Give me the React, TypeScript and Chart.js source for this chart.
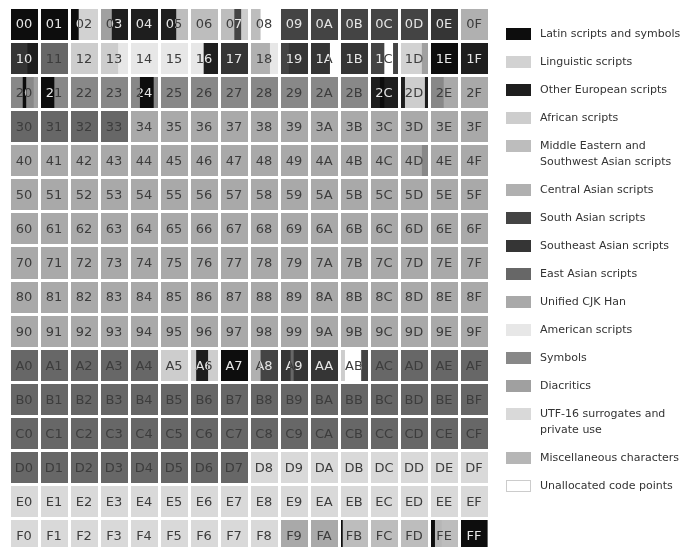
import { useEffect, useRef } from "react";
import { Chart, registerables } from "chart.js";

Chart.register(...registerables);

const CATEGORIES = [
  "Latin scripts and symbols",
  "Linguistic scripts",
  "Other European scripts",
  "African scripts",
  "Middle Eastern and\nSouthwest Asian scripts",
  "Central Asian scripts",
  "South Asian scripts",
  "Southeast Asian scripts",
  "East Asian scripts",
  "Unified CJK Han",
  "American scripts",
  "Symbols",
  "Diacritics",
  "UTF-16 surrogates and\nprivate use",
  "Miscellaneous characters",
  "Unallocated code points",
];

const CATEGORY_SHADES = [
  "#0d0d0d", "#d2d2d2", "#1e1e1e", "#cdcdcd",
  "#bdbdbd", "#b0b0b0", "#444444", "#353535",
  "#676767", "#a9a9a9", "#e7e7e7", "#888888",
  "#a0a0a0", "#d9d9d9", "#b6b6b6", "#ffffff",
];

// Start code point of each contiguous range (range ends where the next one starts)
const RANGE_STARTS = [
  0x0000, 0x0250, 0x0300, 0x0370, 0x0590, 0x0780, 0x07c0, 0x0800, 0x0860, 0x0900,
  0x0e00, 0x0f00, 0x1000, 0x10a0, 0x1100, 0x1200, 0x13a0, 0x1680, 0x1700, 0x1800,
  0x18b0, 0x1900, 0x1950, 0x1ab0, 0x1b00, 0x1c00, 0x1c80, 0x1cd0, 0x1d00, 0x1dc0,
  0x1e00, 0x1f00, 0x2000, 0x2078, 0x2090, 0x20d0, 0x2100, 0x2180, 0x2460, 0x24d0,
  0x2c00, 0x2c60, 0x2c80, 0x2d30, 0x2de0, 0x2e00, 0x2e80, 0x3000, 0x3400, 0x4dc0,
  0x4e00, 0xa000, 0xa500, 0xa640, 0xa6a0, 0xa700, 0xa800, 0xa860, 0xa900, 0xa960,
  0xa980, 0xab00, 0xab30, 0xabc0, 0xac00, 0xd800, 0xf900, 0xfb00, 0xfb1d, 0xfe00,
  0xfe10, 0xfe30, 0xfe70, 0xff00, 0xfff0,
];

const RANGE_CATEGORIES = [
  0, 1, 12, 2, 4, 6, 3, 4, 15, 6,
  7, 5, 7, 2, 8, 3, 10, 2, 7, 5,
  10, 6, 7, 15, 7, 6, 15, 6, 1, 12,
  0, 2, 11, 0, 11, 12, 0, 11, 0, 11,
  2, 0, 2, 3, 2, 11, 9, 8, 9, 11,
  9, 8, 3, 2, 3, 0, 5, 6, 7, 8,
  7, 3, 15, 6, 8, 13, 9, 0, 4, 12,
  0, 14, 4, 0, 14,
];

const HEX_DIGITS = ["0", "1", "2", "3", "4", "5", "6", "7", "8", "9", "A", "B", "C", "D", "E", "F"];
const ROW_LABELS = HEX_DIGITS.map((d) => "row" + d);

function buildDatasets() {
  const perCat: { x: [number, number]; y: string }[][] = CATEGORIES.map(() => []);
  for (let i = 0; i < RANGE_STARTS.length; i++) {
    const start = RANGE_STARTS[i];
    const end = i + 1 < RANGE_STARTS.length ? RANGE_STARTS[i + 1] : 0x10000;
    const cat = RANGE_CATEGORIES[i];
    let s = start;
    while (s < end) {
      const row = s >> 12;
      const base = row << 12;
      const rowEnd = Math.min(end, base + 0x1000);
      perCat[cat].push({ x: [(s - base) / 256, (rowEnd - base) / 256], y: ROW_LABELS[row] });
      s = rowEnd;
    }
  }
  return CATEGORIES.map((name, i) => ({
    label: name,
    data: perCat[i],
    backgroundColor: CATEGORY_SHADES[i],
    borderWidth: 0,
    grouped: false,
    categoryPercentage: 1,
    barPercentage: 1,
  }));
}

const overlayPlugin = {
  id: "cellLabelsAndLegend",
  afterDraw(chart: any) {
    const ctx = chart.ctx as CanvasRenderingContext2D;
    const xs = chart.scales.x;
    const ys = chart.scales.y;
    ctx.save();
    ctx.font = '13px "DejaVu Sans"';
    ctx.textAlign = "center";
    ctx.textBaseline = "middle";
    const rowH = Math.abs(ys.getPixelForValue(1) - ys.getPixelForValue(0));
    for (let r = 0; r < 16; r++) {
      const yc = ys.getPixelForValue(r);
      for (let c = 0; c < 16; c++) {
        const cellStart = r * 0x1000 + c * 0x100;
        const cellEnd = cellStart + 0x100;
        const text = HEX_DIGITS[r] + HEX_DIGITS[c];
        const xc = xs.getPixelForValue(c + 0.5);
        for (let i = 0; i < RANGE_STARTS.length; i++) {
          const s = Math.max(RANGE_STARTS[i], cellStart);
          const e = Math.min(i + 1 < RANGE_STARTS.length ? RANGE_STARTS[i + 1] : 0x10000, cellEnd);
          if (e <= s) continue;
          const x0 = xs.getPixelForValue(c + (s - cellStart) / 256);
          const x1 = xs.getPixelForValue(c + (e - cellStart) / 256);
          const lum = parseInt(CATEGORY_SHADES[RANGE_CATEGORIES[i]].slice(1, 3), 16);
          ctx.save();
          ctx.beginPath();
          ctx.rect(x0, yc - rowH / 2, x1 - x0, rowH);
          ctx.clip();
          ctx.fillStyle = lum < 0x60 ? "#e6e6e6" : "#3c3c3c";
          ctx.fillText(text, xc, yc + 1);
          ctx.restore();
        }
      }
    }
    // legend
    ctx.font = '11px "DejaVu Sans"';
    ctx.textAlign = "left";
    let y = 34;
    CATEGORIES.forEach((name, i) => {
      ctx.fillStyle = CATEGORY_SHADES[i];
      ctx.fillRect(506, y - 6, 25, 12);
      if (i === CATEGORIES.length - 1) {
        ctx.strokeStyle = "#cccccc";
        ctx.lineWidth = 1;
        ctx.strokeRect(506.5, y - 5.5, 24, 11);
      }
      ctx.fillStyle = "#333333";
      const lines = name.split("\n");
      lines.forEach((ln, k) => ctx.fillText(ln, 540, y + k * 16));
      y += 28 + (lines.length - 1) * 16;
    });
    ctx.restore();
  },
};

export default function App() {
  const ref = useRef<HTMLCanvasElement | null>(null);
  useEffect(() => {
    if (!ref.current) return;
    const chart = new Chart(ref.current, {
      type: "bar",
      data: { labels: ROW_LABELS, datasets: buildDatasets() as any },
      options: {
        responsive: false,
        maintainAspectRatio: false,
        animation: false,
        indexAxis: "y",
        layout: { padding: { left: 9, right: 209, top: 7, bottom: 7 } },
        plugins: { legend: { display: false }, tooltip: { enabled: false } },
        scales: {
          x: {
            type: "linear",
            min: 0,
            max: 16,
            ticks: { display: false, stepSize: 1, maxTicksLimit: 20 },
            grid: { color: "#ffffff", lineWidth: 3, drawTicks: false, z: 1 },
            border: { display: false },
          },
          y: {
            type: "category",
            labels: ROW_LABELS,
            offset: true,
            ticks: { display: false },
            grid: { color: "#ffffff", lineWidth: 3, drawTicks: false, z: 1, offset: true },
            border: { display: false },
          },
        },
      } as any,
      plugins: [overlayPlugin],
    });
    return () => chart.destroy();
  }, []);
  return (
    <div style={{ position: "fixed", left: 0, top: 0, width: 698, height: 547, overflow: "hidden", background: "#ffffff" }}>
      <canvas ref={ref} width={698} height={560} style={{ display: "block" }} />
    </div>
  );
}
